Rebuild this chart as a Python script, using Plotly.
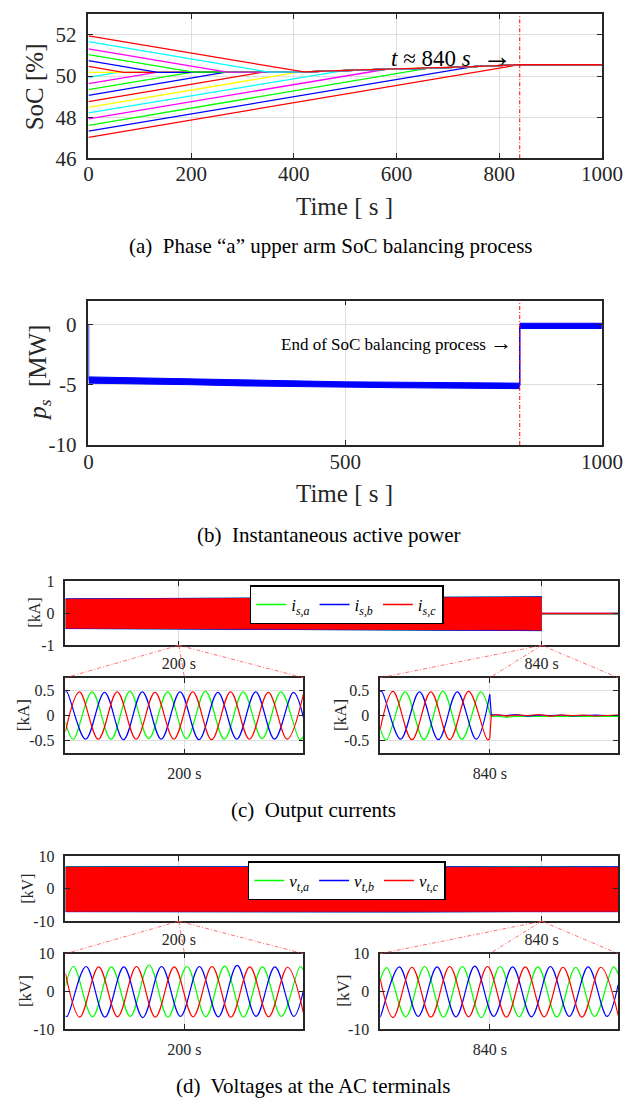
import plotly.graph_objects as go

W, H = 644, 1110
FONT = "Liberation Serif"
TXT = "#262626"
RED, GREEN, BLUE = "#ff0000", "#00ff00", "#0000ff"
CYAN, MAGENTA, YELLOW = "#00ffff", "#ff00ff", "#ffff00"

# ---------------- (a) SoC balancing ----------------
soc_colors = [RED, CYAN, MAGENTA, GREEN, BLUE, RED, YELLOW, CYAN, MAGENTA,
              GREEN, BLUE, RED, YELLOW, CYAN, MAGENTA, GREEN, BLUE, RED]
soc_start = [51.95, 51.67, 51.32, 51.04, 50.75, 50.47, 50.18, 49.94, 49.63,
             49.34, 49.06, 48.76, 48.47, 48.21, 47.92, 47.60, 47.32, 47.02]
soc_merge_t = [420, 352, 270, 205, 135, 68, 0, 57, 132,
               200, 268, 340, 411, 492, 573, 660, 750, 840]
soc_merge_v = [50.20, 50.19, 50.19, 50.19, 50.18, 50.18, 50.18, 50.18, 50.18,
               50.18, 50.19, 50.19, 50.20, 50.28, 50.33, 50.37, 50.46, 50.55]
soc_common_t = [0, 420, 500, 580, 660, 750, 840, 1000]
soc_common_v = [50.18, 50.20, 50.28, 50.33, 50.37, 50.46, 50.55, 50.55]
t_end = 840

# ---------------- (b) active power ----------------
p_env_t = [0, 100, 200, 300, 400, 500, 600, 700, 800, 840]
p_env_hi = [-4.34, -4.42, -4.52, -4.62, -4.70, -4.75, -4.78, -4.81, -4.84, -4.86]
p_env_lo = [-4.86, -4.90, -4.99, -5.09, -5.16, -5.21, -5.24, -5.27, -5.30, -5.32]
p_after_t = [840, 1000]
p_after_hi = [0.12, 0.12]
p_after_lo = [-0.32, -0.32]
p_jump0_t, p_jump0_v = [0, 0], [0.0, -4.6]
p_jump1_t, p_jump1_v = [840, 840], [-5.08, -0.1]

# ---------------- (c) currents, overview envelopes ----------------
i_env_t = [0, 200, 400, 600, 840]
ia_env_hi = [0.45, 0.46, 0.48, 0.50, 0.52]
ia_env_lo = [-0.47, -0.48, -0.50, -0.52, -0.54]
ib_env_hi = [0.455, 0.465, 0.485, 0.505, 0.52]
ib_env_lo = [-0.475, -0.485, -0.505, -0.525, -0.54]
ic_env_hi = [0.44, 0.45, 0.47, 0.49, 0.50]
ic_env_lo = [-0.46, -0.47, -0.49, -0.51, -0.52]
i_post_t = [840, 975]
ia_post = [-0.01, -0.01]
ib_post = [0.0, 0.0]
ic_post = [0.0, 0.0]

# (c) zoom at 200 s (ms around the instant)
ia_L_t = [-63, -58.9, -48.9, -38.9, -28.9, -18.9, -8.9, 1.1, 11.1, 21.1, 31.1, 41.1, 51.1, 61.1, 63]
ia_L_v = [-0.13, -0.47, 0.47, -0.47, 0.48, -0.46, 0.47, -0.46, 0.48, -0.47, 0.47, -0.46, 0.47, -0.48, -0.41]
ib_L_t = [-63, -62.3, -52.3, -42.3, -32.3, -22.3, -12.3, -2.3, 7.7, 17.7, 27.7, 37.7, 47.7, 57.7, 63]
ib_L_v = [0.46, 0.47, -0.47, 0.46, -0.48, 0.47, -0.47, 0.47, -0.48, 0.46, -0.47, 0.47, -0.47, 0.46, -0.04]
ic_L_t = [-63, -55.6, -45.6, -35.6, -25.6, -15.6, -5.6, 4.4, 14.4, 24.4, 34.4, 44.4, 54.4, 63]
ic_L_v = [-0.32, 0.47, -0.47, 0.47, -0.47, 0.46, -0.47, 0.47, -0.48, 0.47, -0.47, 0.46, -0.47, 0.43]

# (c) zoom at 840 s
ia_R_t = [-58, -54.8, -44.8, -34.8, -24.8, -14.8, -4.8, 0.0]
ia_R_v = [-0.25, -0.49, 0.47, -0.48, 0.48, -0.47, 0.47, 0.05]
ib_R_t = [-58, -57.2, -47.2, -37.2, -27.2, -17.2, -7.2, 0.0]
ib_R_v = [0.47, 0.48, -0.47, 0.47, -0.48, 0.47, -0.47, 0.42]
ic_R_t = [-58, -51.2, -41.2, -31.2, -21.2, -11.2, -1.2, 0.0]
ic_R_v = [-0.27, 0.48, -0.48, 0.47, -0.48, 0.48, -0.48, -0.46]
i_off_t = [0.0, 0.8, 4, 9, 14, 20, 26, 32, 38, 44, 50, 56, 62, 68]
ia_off_v = [0.05, -0.02, -0.02, -0.03, -0.02, -0.02, -0.03, -0.02, -0.02, -0.03, -0.02, -0.02, -0.03, -0.02]
ib_off_v = [0.42, 0.02, 0.01, 0.0, 0.02, -0.01, 0.01, 0.0, 0.01, -0.01, 0.0, 0.01, 0.0, 0.0]
ic_off_v = [-0.46, 0.0, 0.02, -0.01, 0.01, 0.0, 0.02, -0.01, 0.01, 0.0, 0.01, -0.01, 0.0, 0.01]

# ---------------- (d) voltages, overview envelopes ----------------
v_env_t = [0, 200, 400, 600, 800, 975]
va_env_hi = [6.9, 6.8, 6.9, 6.8, 6.9, 6.8]
va_env_lo = [-7.0, -7.1, -7.0, -7.1, -7.0, -7.0]
vb_env_hi = [6.75, 6.85, 6.75, 6.85, 6.75, 6.8]
vb_env_lo = [-7.05, -7.15, -7.05, -7.15, -7.05, -7.05]
vc_env_hi = [6.6, 6.6, 6.5, 6.6, 6.5, 6.5]
vc_env_lo = [-6.9, -6.9, -6.9, -6.9, -6.9, -6.9]

va_L_t = [-63, -58.7, -48.7, -38.7, -28.7, -18.7, -8.7, 1.3, 11.3, 21.3, 31.3, 41.3, 51.3, 61.3, 63]
va_L_v = [1.5, 6.6, -6.7, 6.5, -6.6, 7.0, -6.8, 6.6, -6.7, 6.7, -6.8, 6.5, -6.6, 6.6, 5.6]
vb_L_t = [-63, -62.1, -52.1, -42.1, -32.1, -22.1, -12.1, -2.1, 7.9, 17.9, 27.9, 37.9, 47.9, 57.9, 63]
vb_L_v = [-6.5, -6.6, 6.6, -6.8, 6.5, -6.9, 6.6, -6.6, 6.6, -6.7, 6.9, -6.6, 6.5, -6.6, 0.3]
vc_L_t = [-63, -55.4, -45.4, -35.4, -25.4, -15.4, -5.4, 4.6, 14.6, 24.6, 34.6, 44.6, 54.6, 63]
vc_L_v = [4.8, -6.8, 6.5, -6.7, 6.6, -6.8, 6.5, -6.7, 6.6, -6.8, 6.5, -6.7, 6.4, -5.7]

va_R_t = [-58, -54.5, -44.5, -34.5, -24.5, -14.5, -4.5, 5.5, 15.5, 25.5, 35.5, 45.5, 55.5, 65.5, 68]
va_R_v = [3.0, 6.3, -6.7, 6.6, -6.8, 6.6, -6.9, 6.6, -6.7, 6.5, -6.8, 6.4, -6.6, 6.5, 4.6]
vb_R_t = [-58, -57.9, -47.9, -37.9, -27.9, -17.9, -7.9, 2.1, 12.1, 22.1, 32.1, 42.1, 52.1, 62.1, 68]
vb_R_v = [-6.7, -6.7, 6.5, -6.6, 6.5, -6.7, 6.7, -6.6, 6.5, -6.7, 6.6, -6.6, 6.5, -6.6, 1.8]
vc_R_t = [-58, -51.2, -41.2, -31.2, -21.2, -11.2, -1.2, 8.8, 18.8, 28.8, 38.8, 48.8, 58.8, 68]
vc_R_v = [3.4, -6.9, 6.4, -6.8, 6.6, -6.7, 6.6, -6.8, 6.5, -6.7, 6.4, -6.8, 6.4, -6.3]

# ---------------- layout geometry (pixels) ----------------
DOM = {  # name: (x0, x1, ytop, ybottom)
    "a": (87, 622, 6.5, 153),
    "b": (87, 622, 298, 445),
    "c": (63, 639, 584, 649),
    "cL": (63, 311, 682, 759),
    "cR": (391, 639, 682, 759),
    "d": (63, 639, 864, 930),
    "dL": (63, 311, 963, 1040),
    "dR": (391, 639, 963, 1040),
}
RNG = {
    "a": ([0, 1000], [46, 53]),
    "b": ([0, 1000], [-10, 2]),
    "c": ([0, 975], [-1, 1]),
    "cL": ([-63, 63], [-0.75, 0.75]),
    "cR": ([-58, 68], [-0.75, 0.75]),
    "d": ([0, 975], [-10, 10]),
    "dL": ([-63, 63], [-10, 10]),
    "dR": ([-58, 68], [-10, 10]),
}
ORDER = ["a", "b", "c", "cL", "cR", "d", "dL", "dR"]
AX = {k: (("x" if i == 0 else f"x{i+1}"), ("y" if i == 0 else f"y{i+1}")) for i, k in enumerate(ORDER)}

fig = go.Figure()


def line(panel, x, y, color, width=1.2, spline=False, **kw):
    xa, ya = AX[panel]
    fig.add_trace(go.Scatter(
        x=x, y=y, mode="lines", xaxis=xa, yaxis=ya, showlegend=False, hoverinfo="skip",
        line=dict(color=color, width=width, shape="spline" if spline else "linear",
                  smoothing=1.0), **kw))


def band(panel, x, hi, lo, color):
    line(panel, x, hi, color, width=1)
    line(panel, x, lo, color, width=1, fill="tonexty", fillcolor=color)


# (a)
for i in reversed(range(len(soc_start))):
    xs = [0, soc_merge_t[i]] + [t for t in soc_common_t if t > soc_merge_t[i]]
    ys = [soc_start[i], soc_merge_v[i]] + [v for t, v in zip(soc_common_t, soc_common_v) if t > soc_merge_t[i]]
    line("a", xs, ys, soc_colors[i], width=1.3)

# (b)
band("b", p_env_t, p_env_hi, p_env_lo, BLUE)
band("b", p_after_t, p_after_hi, p_after_lo, BLUE)
line("b", p_jump0_t, p_jump0_v, BLUE, width=1.5)
line("b", p_jump1_t, p_jump1_v, BLUE, width=1.5)

# (c) overview
band("c", i_env_t, ia_env_hi, ia_env_lo, GREEN)
band("c", i_env_t, ib_env_hi, ib_env_lo, BLUE)
band("c", i_env_t, ic_env_hi, ic_env_lo, RED)
line("c", i_post_t, ia_post, GREEN, width=1.5)
line("c", i_post_t, ib_post, BLUE, width=1.5)
line("c", i_post_t, ic_post, RED, width=1.5)

# (c) zooms
for t, v, c in [(ia_L_t, ia_L_v, GREEN), (ib_L_t, ib_L_v, BLUE), (ic_L_t, ic_L_v, RED)]:
    line("cL", t, v, c, spline=True)
for t, v, off, c in [(ia_R_t, ia_R_v, ia_off_v, GREEN), (ib_R_t, ib_R_v, ib_off_v, BLUE),
                     (ic_R_t, ic_R_v, ic_off_v, RED)]:
    line("cR", t, v, c, spline=True)
    line("cR", i_off_t, off, c)

# (d) overview
band("d", v_env_t, va_env_hi, va_env_lo, GREEN)
band("d", v_env_t, vb_env_hi, vb_env_lo, BLUE)
band("d", v_env_t, vc_env_hi, vc_env_lo, RED)

# (d) zooms
for t, v, c in [(va_L_t, va_L_v, GREEN), (vb_L_t, vb_L_v, BLUE), (vc_L_t, vc_L_v, RED)]:
    line("dL", t, v, c, spline=True)
for t, v, c in [(va_R_t, va_R_v, GREEN), (vb_R_t, vb_R_v, BLUE), (vc_R_t, vc_R_v, RED)]:
    line("dR", t, v, c, spline=True)

# legend-only entries
for name, c, lg in [("<i>i</i><sub><i>s,a</i></sub>", GREEN, "legend"),
                    ("<i>i</i><sub><i>s,b</i></sub>", BLUE, "legend"),
                    ("<i>i</i><sub><i>s,c</i></sub>", RED, "legend"),
                    ("<i>v</i><sub><i>t,a</i></sub>", GREEN, "legend2"),
                    ("<i>v</i><sub><i>t,b</i></sub>", BLUE, "legend2"),
                    ("<i>v</i><sub><i>t,c</i></sub>", RED, "legend2")]:
    xa, ya = AX["c"] if lg == "legend" else AX["d"]
    fig.add_trace(go.Scatter(x=[None], y=[None], mode="lines", name=name, legend=lg,
                             line=dict(color=c, width=1.5), xaxis=xa, yaxis=ya))

# ---------------- axes ----------------
TICKS = {  # xvals, xtext, yvals, ytext, font size, x-label standoff
    "a": ([0, 200, 400, 600, 800, 1000], None, [46, 48, 50, 52], None, 21, -4),
    "b": ([0, 500, 1000], None, [-10, -5, 0], ["-10", "-5", "0"], 21, -3),
    "c": ([200, 840], ["200 s", "840 s"], [-1, 0, 1], ["-1", "0", "1"], 16, 3),
    "cL": ([0], ["200 s"], [-0.5, 0, 0.5], ["-0.5", "0", "0.5"], 16, 5),
    "cR": ([0], ["840 s"], [-0.5, 0, 0.5], ["-0.5", "0", "0.5"], 16, 5),
    "d": ([200, 840], ["200 s", "840 s"], [-10, 0, 10], ["-10", "0", "10"], 16, 3),
    "dL": ([0], ["200 s"], [-10, 0, 10], ["-10", "0", "10"], 16, 5),
    "dR": ([0], ["840 s"], [-10, 0, 10], ["-10", "0", "10"], 16, 5),
}

common = dict(showline=True, linecolor=TXT, linewidth=1.6, mirror="ticks", ticks="inside",
              ticklen=5, tickwidth=1.3, tickcolor=TXT, showgrid=True, gridcolor="#dedede",
              gridwidth=1, zeroline=False, fixedrange=True)

lay = {}
for i, k in enumerate(ORDER):
    x0, x1, yt, yb = DOM[k]
    xr, yr = RNG[k]
    xt, xtt, yt_, ytt, fs, so = TICKS[k]
    sfx = "" if i == 0 else str(i + 1)
    xd = dict(common, domain=[x0 / W, x1 / W], range=xr, anchor="y" + sfx, tickvals=xt,
              tickfont=dict(family=FONT, size=fs, color=TXT), ticklabelstandoff=so)
    if xtt:
        xd["ticktext"] = xtt
    yd = dict(common, domain=[1 - yb / H, 1 - yt / H], range=yr, anchor="x" + sfx, tickvals=yt_,
              tickfont=dict(family=FONT, size=fs, color=TXT), ticklabelstandoff=6)
    if ytt:
        yd["ticktext"] = ytt
    lay["xaxis" + sfx] = xd
    lay["yaxis" + sfx] = yd

fig.update_layout(**lay)


def px_x(panel, v):
    x0, x1, _, _ = DOM[panel]
    r = RNG[panel][0]
    return (x0 + (v - r[0]) / (r[1] - r[0]) * (x1 - x0)) / W


def py(ypix):
    return 1 - ypix / H


shapes = []
# vertical balancing-end markers
for k in ["a", "b"]:
    xa, ya = AX[k]
    shapes.append(dict(type="line", xref=xa, yref=ya + " domain", x0=t_end, x1=t_end, y0=0, y1=1,
                       line=dict(color=RED, width=1, dash="4px,2px,1px,2px")))
# zoom connectors
for big, small_L, small_R in [("c", "cL", "cR"), ("d", "dL", "dR")]:
    yb = py(DOM[big][3])
    for val, sm in [(200, small_L), (840, small_R)]:
        xs = px_x(big, val)
        ys = py(DOM[sm][2])
        r = RNG[sm][0]
        for tv in [r[0], 0, r[1]]:
            shapes.append(dict(type="line", xref="paper", yref="paper", x0=xs, y0=yb,
                               x1=px_x(sm, tv), y1=ys,
                               line=dict(color="#ff5050", width=0.8, dash="4px,2px,1px,2px")))

ann = []


def text(x, y, s, size, angle=0, color="black", xanchor="center", xref="paper", yref="paper"):
    ann.append(dict(x=x, y=y, xref=xref, yref=yref, text=s, showarrow=False, textangle=angle,
                    xanchor=xanchor, yanchor="middle", font=dict(family=FONT, size=size, color=color)))


ARROW = '<span style="font-size:30px">→</span>'
ARROW_S = '<span style="font-size:22px">→</span>'

# axis titles
text(31 / W, py(80), "SoC [%]", 25, -90, TXT)
text(354 / W, py(202), "Time [ s ]", 25, 0, TXT)
text(36 / W, py(372), "<i>p</i><sub><i>s</i></sub>  [MW]", 25, -90, TXT)
text(354 / W, py(494), "Time [ s ]", 25, 0, TXT)
text(31 / W, py(616), "[kA]", 16, -90, TXT)
text(19 / W, py(720), "[kA]", 17, -90, TXT)
text(349 / W, py(720), "[kA]", 17, -90, TXT)
text(24 / W, py(897), "[kV]", 16, -90, TXT)
text(22 / W, py(1001), "[kV]", 17, -90, TXT)
text(353 / W, py(1001), "[kV]", 17, -90, TXT)
# in-plot notes
text(828, 51.0, "<i>t</i> ≈ 840 <i>s</i>\u00a0\u00a0" + ARROW, 23, 0, "black", "right", "x", "y")
text(828, -1.45, "End of SoC balancing process\u00a0" + ARROW_S, 17, 0, "black", "right", "x2", "y2")
# captions
text(340 / W, py(242), "(a)\u00a0 Phase “a” upper arm SoC balancing process", 21)
text(338 / W, py(537), "(b)\u00a0 Instantaneous active power", 21)
text(321 / W, py(817), "(c)\u00a0 Output currents", 21)
text(321 / W, py(1098), "(d)\u00a0 Voltages at the AC terminals", 21)

legend_common = dict(orientation="h", xanchor="left", yanchor="top", bgcolor="white",
                     bordercolor="black", borderwidth=1.5, traceorder="normal",
                     font=dict(family=FONT, size=17, color="black"))
fig.update_layout(
    width=W, height=H, margin=dict(l=0, r=0, t=0, b=0),
    paper_bgcolor="white", plot_bgcolor="white",
    font=dict(family=FONT, color=TXT),
    shapes=shapes, annotations=ann,
    legend=dict(legend_common, x=255 / W, y=py(588)),
    legend2=dict(legend_common, x=253 / W, y=py(869)),
)

fig.write_html("out.html")
